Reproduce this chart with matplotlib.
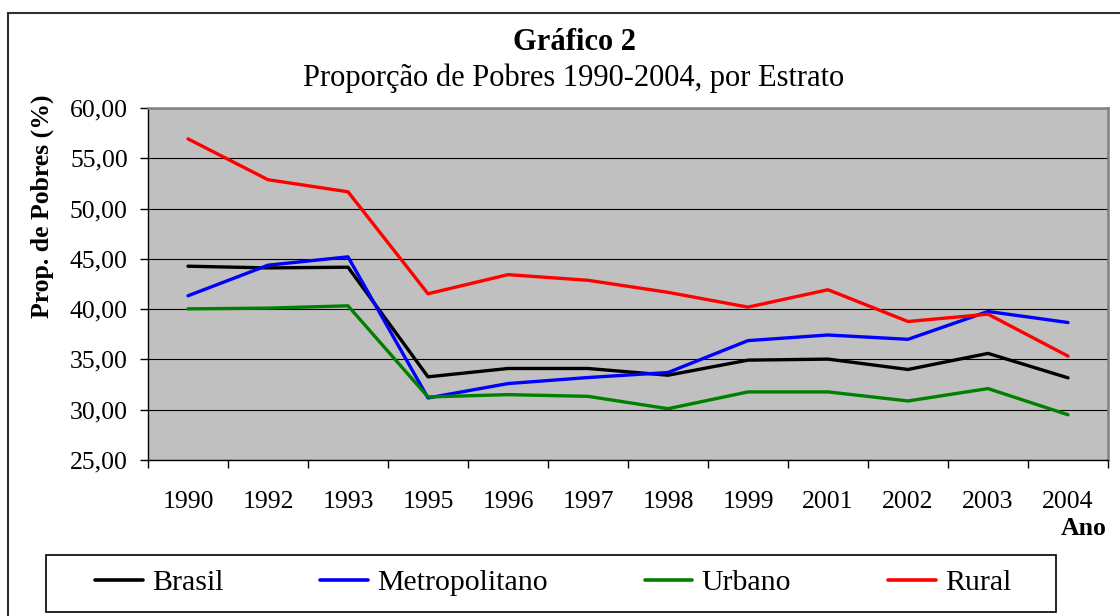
import matplotlib
matplotlib.use("Agg")
import matplotlib.pyplot as plt
from matplotlib.patches import Rectangle
import numpy as np

plt.rcParams['font.family'] = ['Liberation Serif', 'DejaVu Serif']

anos = ['1990', '1992', '1993', '1995', '1996', '1997', '1998', '1999', '2001', '2002', '2003', '2004']
brasil = [44.27, 44.10, 44.17, 33.27, 34.10, 34.10, 33.43, 34.93, 35.03, 34.00, 35.60, 33.17]
metropolitano = [41.33, 44.37, 45.20, 31.17, 32.60, 33.20, 33.70, 36.87, 37.43, 37.00, 39.77, 38.67]
urbano = [40.03, 40.10, 40.33, 31.27, 31.50, 31.33, 30.10, 31.77, 31.77, 30.87, 32.10, 29.50]
rural = [56.93, 52.87, 51.67, 41.53, 43.43, 42.87, 41.67, 40.20, 41.93, 38.77, 39.50, 35.33]
series_nomes = ['Brasil', 'Metropolitano', 'Urbano', 'Rural']
yticks = [25, 30, 35, 40, 45, 50, 55, 60]

W, H = 1120, 616
fig = plt.figure(figsize=(W / 100, H / 100), dpi=100)

def fx(px):
    return px / W

def fy(py):
    return 1 - py / H

# outer chart border
fig.patches.append(Rectangle((fx(7.5), -0.05), 1.2, fy(12.5) + 0.05, transform=fig.transFigure,
                             fill=False, edgecolor='#303030', linewidth=1.5, zorder=0))

ax = fig.add_axes([fx(148), fy(460), fx(1108) - fx(148), fy(108) - fy(460)])
ax.set_facecolor('#C0C0C0')

x = np.arange(len(anos))
cores = ['#000000', '#0000FF', '#008000', '#FF0000']
for vals, nome, cor in zip([brasil, metropolitano, urbano, rural], series_nomes, cores):
    ax.plot(x, vals, color=cor, linewidth=2.4, label=nome, solid_capstyle='round', zorder=3)

ax.set_xlim(-0.5, len(anos) - 0.5)
ax.set_ylim(25, 60)
ax.set_yticks(yticks)
ax.set_yticklabels([f"{v:.2f}".replace('.', ',') for v in yticks], fontsize=18.5)
ax.yaxis.grid(True, color='black', linewidth=0.8, zorder=1)
ax.set_axisbelow(True)

ax.set_xticks(np.arange(-0.5, len(anos), 1.0))
ax.set_xticklabels([])
ax.set_xticks(x, minor=True)
ax.set_xticklabels(anos, minor=True, fontsize=18.5)
ax.tick_params(axis='x', which='major', direction='out', length=5.5, width=1, color='black')
ax.tick_params(axis='x', which='minor', length=0, pad=22.5)
ax.tick_params(axis='y', direction='out', length=5.5, width=1, color='black', pad=9)

for s in ['left', 'bottom']:
    ax.spines[s].set_color('black')
    ax.spines[s].set_linewidth(1.0)
for s in ['top', 'right']:
    ax.spines[s].set_color('#808080')
    ax.spines[s].set_linewidth(1.8)

fig.text(fx(574), fy(50), 'Gráfico 2', ha='center', va='baseline', fontsize=22, fontweight='bold')
fig.text(fx(574), fy(86), 'Proporção de Pobres 1990-2004, por Estrato', ha='center', va='baseline', fontsize=22)
fig.text(fx(42), fy(206), 'Prop. de Pobres (%)', rotation=90, ha='center', va='center',
         fontsize=18.5, fontweight='bold')
fig.text(fx(1107), fy(535), 'Ano', ha='right', va='baseline', fontsize=18.5, fontweight='bold')

# legend frame
fig.patches.append(Rectangle((fx(46), fy(612)), fx(1056) - fx(46), fy(555) - fy(612),
                             transform=fig.transFigure, fill=False, edgecolor='black',
                             linewidth=1.2, zorder=0))
handles, labels = ax.get_legend_handles_labels()
leg = fig.legend(handles, labels, loc='center', bbox_to_anchor=(fx(553), fy(583)), ncol=4,
                 frameon=False, fontsize=21.5, handlelength=1.6, handletextpad=0.3,
                 columnspacing=3.25, borderpad=0.0)
for ln in leg.get_lines():
    ln.set_linewidth(2.6)

fig.savefig('out.png', dpi=100)
